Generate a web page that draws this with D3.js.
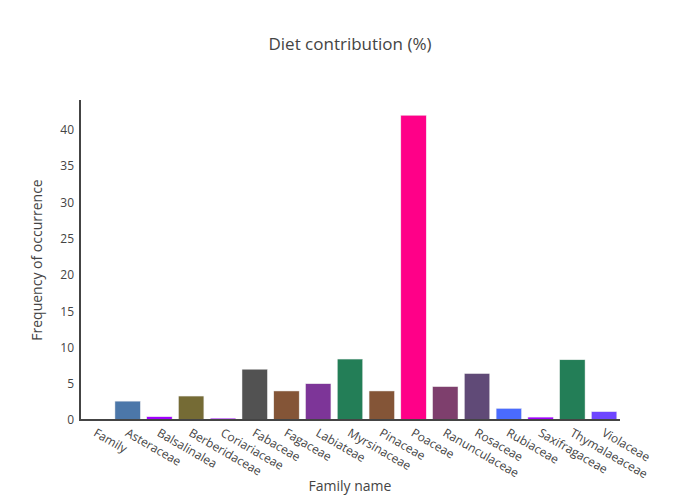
<!DOCTYPE html>
<html>
<head>
<meta charset="utf-8">
<script src="https://cdn.jsdelivr.net/npm/d3@7"></script>
<style>
  body { margin: 0; background: #fff; }
  text { font-family: "Open Sans", sans-serif; fill: #444; }
</style>
</head>
<body>
<svg width="700" height="500"></svg>
<script>
var families = ["Family", "Asteraceae", "Balsalinalea", "Berberidaceae", "Coriariaceae",
  "Fabaceae", "Fagaceae", "Labiateae", "Myrsinaceae", "Pinaceae", "Poaceae",
  "Ranunculaceae", "Rosaceae", "Rubiaceae", "Saxifragaceae", "Thymalaeaceae", "Violaceae"];
var values = [0, 2.6, 0.45, 3.3, 0.25, 7.0, 4.0, 5.0, 8.4, 4.0, 42, 4.6, 6.4, 1.6, 0.4, 8.3, 1.15];
var barColors = ["#444", "#4c77a9", "#a100ff", "#756b35", "#a100ff", "#525252", "#845537",
  "#7d3598", "#237e57", "#845537", "#ff0088", "#7e3f6d", "#604a77", "#4a6bfe", "#a100ff",
  "#237e57", "#6e46ff"];
var yTicks = [0, 5, 10, 15, 20, 25, 30, 35, 40];

var svg = d3.select("svg"),
    margin = {left: 80, right: 80, top: 100, bottom: 80},
    width = +svg.attr("width") - margin.left - margin.right,
    height = +svg.attr("height") - margin.top - margin.bottom;

var x = d3.scaleBand()
    .domain(families)
    .range([0, width])
    .paddingInner(0.2)
    .paddingOuter(0.1);

var y = d3.scaleLinear()
    .domain([0, d3.max(values) * 1.05])
    .range([height, 0]);

var g = svg.append("g")
    .attr("transform", "translate(" + margin.left + "," + margin.top + ")");

// bars
g.selectAll("rect.bar")
    .data(values)
  .enter().append("rect")
    .attr("class", "bar")
    .attr("x", function(d, i) { return x(families[i]); })
    .attr("width", x.bandwidth())
    .attr("y", function(d) { return y(d); })
    .attr("height", function(d) { return height - y(d); })
    .style("fill", function(d, i) { return barColors[i]; })
    .style("stroke", "#eee")
    .style("stroke-width", 0.5);

// y axis
var yAxis = g.append("g")
    .call(d3.axisLeft(y).tickValues(yTicks).tickSize(0).tickPadding(6));
yAxis.select(".domain").remove();
yAxis.selectAll("text")
    .style("font-size", "12px")
    .style("font-family", "'Open Sans', sans-serif")
    .style("fill", "#444");

g.append("line")
    .attr("x1", 0).attr("x2", 0)
    .attr("y1", 0).attr("y2", height + 1)
    .style("stroke", "#444").style("stroke-width", 2);

// x axis, labels tilted 30deg
var xAxis = g.append("g")
    .attr("transform", "translate(0," + height + ")")
    .call(d3.axisBottom(x).tickSize(0).tickPadding(0));
xAxis.select(".domain").remove();
xAxis.selectAll("text")
    .attr("text-anchor", "start")
    .attr("transform", "translate(1,8) rotate(30)")
    .attr("y", 0)
    .attr("dy", "0.7em")
    .style("font-size", "12px")
    .style("font-family", "'Open Sans', sans-serif")
    .style("fill", "#444");

g.append("line")
    .attr("x1", -1).attr("x2", width)
    .attr("y1", height).attr("y2", height)
    .style("stroke", "#444").style("stroke-width", 2);

// titles
svg.append("text")
    .attr("x", 350).attr("y", 50)
    .attr("text-anchor", "middle")
    .style("font-size", "17px")
    .text("Diet contribution (%)");

svg.append("text")
    .attr("x", margin.left + width / 2).attr("y", 491)
    .attr("text-anchor", "middle")
    .style("font-size", "14px")
    .text("Family name");

svg.append("text")
    .attr("transform", "translate(42," + (margin.top + height / 2) + ") rotate(-90)")
    .attr("text-anchor", "middle")
    .style("font-size", "14px")
    .text("Frequency of occurrence");
</script>
</body>
</html>
